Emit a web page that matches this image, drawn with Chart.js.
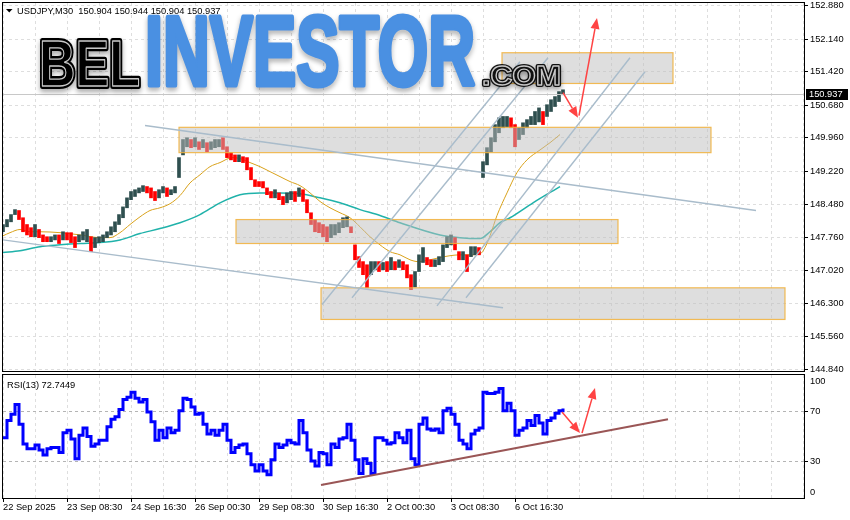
<!DOCTYPE html>
<html>
<head>
<meta charset="utf-8">
<title>USDJPY M30</title>
<script src="https://cdn.jsdelivr.net/npm/chart.js@4.4.1/dist/chart.umd.min.js"></script>
<style>
    body { margin: 0; background: #fff; }
    #wrap { position: relative; width: 850px; height: 520px; background: #fff; overflow: hidden; }
    #price-chart { position: absolute; left: 0; top: 0; }
    #rsi-chart { position: absolute; left: 0; top: 372px; }
</style>
</head>
<body>
<div id="wrap">
    <canvas id="price-chart" width="850" height="380"></canvas>
    <canvas id="rsi-chart" width="850" height="148"></canvas>
</div>
<script>
"use strict";

// bar positions (M30 bar number from the left edge), one sample every 4 bars
var STEP = 4;
var highs = [148.04, 148.15, 148.26, 148.37, 148.35, 148.19, 148.04, 147.97, 148.04, 147.93,
    147.81, 147.77, 147.77, 147.81, 147.81, 147.88, 147.86, 147.86, 147.77, 147.81,
    147.88, 147.93, 147.77, 147.75, 147.77, 147.81, 147.88, 147.99, 148.10, 148.26,
    148.43, 148.63, 148.77, 148.81, 148.85, 148.90, 148.88, 148.85, 148.77, 148.81,
    148.88, 148.85, 148.81, 148.88, 149.52, 149.92, 149.96, 149.92, 149.96, 149.87,
    149.92, 149.85, 149.87, 149.92, 149.92, 149.96, 149.76, 149.63, 149.58, 149.58,
    149.54, 149.52, 149.30, 149.03, 148.99, 148.99, 148.85, 148.77, 148.81, 148.74,
    148.66, 148.74, 148.77, 148.77, 148.85, 148.81, 148.59, 148.30, 148.15, 148.08,
    148.04, 147.99, 148.04, 148.04, 148.08, 148.19, 148.21, 147.99, 147.59, 147.33,
    147.22, 147.15, 147.22, 147.22, 147.22, 147.20, 147.22, 147.31, 147.22, 147.26,
    147.22, 147.15, 146.93, 147.00, 147.37, 147.53, 147.31, 147.26, 147.26, 147.33,
    147.59, 147.77, 147.81, 147.75, 147.44, 147.44, 147.37, 147.55, 147.55, 147.53,
    149.43, 149.74, 149.96, 150.25, 150.40, 150.43, 150.43, 150.40, 150.25, 150.18,
    150.29, 150.36, 150.43, 150.54, 150.62, 150.54, 150.69, 150.80, 150.87, 150.98,
    151.02];
var lows = [147.88, 147.99, 148.10, 148.26, 148.15, 147.88, 147.81, 147.77, 147.77, 147.75,
    147.66, 147.66, 147.66, 147.70, 147.62, 147.70, 147.70, 147.64, 147.53, 147.66,
    147.70, 147.66, 147.44, 147.53, 147.64, 147.66, 147.75, 147.81, 147.88, 148.04,
    148.19, 148.41, 148.59, 148.66, 148.74, 148.77, 148.74, 148.63, 148.57, 148.63,
    148.74, 148.66, 148.70, 148.74, 149.08, 149.58, 149.76, 149.74, 149.76, 149.70,
    149.74, 149.65, 149.70, 149.74, 149.76, 149.70, 149.52, 149.47, 149.43, 149.43,
    149.41, 149.25, 149.03, 148.88, 148.88, 148.85, 148.70, 148.63, 148.63, 148.59,
    148.48, 148.52, 148.59, 148.55, 148.66, 148.55, 148.30, 148.04, 147.88, 147.86,
    147.77, 147.66, 147.75, 147.81, 147.86, 147.97, 147.99, 147.86, 147.26, 147.09,
    146.93, 146.64, 146.93, 147.04, 147.00, 147.04, 147.00, 147.04, 147.04, 147.09,
    147.04, 146.86, 146.60, 146.66, 147.00, 147.20, 147.15, 147.11, 147.11, 147.15,
    147.22, 147.53, 147.59, 147.48, 147.26, 147.26, 147.00, 147.33, 147.37, 147.37,
    149.08, 149.36, 149.65, 149.87, 150.07, 150.18, 150.20, 150.18, 149.76, 149.92,
    150.03, 150.18, 150.25, 150.25, 150.31, 150.25, 150.43, 150.54, 150.65, 150.76,
    150.91];
var rsiValues = [49, 63, 68, 76, 60, 44, 40, 40, 43, 39,
    35, 40, 41, 41, 37, 53, 55, 48, 32, 51,
    57, 50, 42, 44, 47, 47, 58, 64, 66, 72,
    80, 82, 86, 81, 78, 80, 70, 62, 47, 55,
    49, 57, 53, 55, 71, 81, 80, 74, 68, 69,
    60, 52, 55, 51, 55, 60, 47, 37, 41, 43,
    44, 36, 27, 22, 27, 22, 19, 31, 44, 41,
    43, 47, 45, 44, 63, 53, 39, 30, 26, 37,
    36, 27, 44, 41, 48, 49, 60, 47, 31, 20,
    32, 28, 20, 49, 49, 47, 44, 45, 53, 49,
    45, 55, 32, 27, 60, 65, 56, 55, 56, 53,
    71, 73, 68, 60, 47, 44, 40, 52, 55, 57,
    86, 85, 85, 86, 89, 71, 77, 71, 51, 55,
    57, 63, 59, 67, 61, 52, 63, 65, 69, 71,
    72.74];

// moving averages, read at their own bar numbers
var fastX = [0, 7, 17, 27, 37, 57, 77, 97, 107, 117, 127, 137, 147, 157, 167, 177, 187, 197, 207, 217,
    229, 237, 247, 257, 267, 277, 287, 297, 307, 317, 327, 337, 347, 357, 367, 377, 387, 397, 407, 415,
    427, 437, 447, 457, 467, 477, 482, 487, 494, 504, 514, 524, 537, 547, 557];
var fastMA = [147.79, 147.86, 147.93, 147.88, 147.88, 147.86, 147.81, 147.75, 147.75, 147.86,
    148.04, 148.21, 148.35, 148.41, 148.50, 148.68, 148.96, 149.14, 149.32, 149.41,
    149.52, 149.50, 149.41, 149.32, 149.21, 149.10, 148.99, 148.90, 148.74, 148.55,
    148.41, 148.30, 148.19, 147.99, 147.77, 147.59, 147.44, 147.37, 147.26, 147.22,
    147.26, 147.31, 147.35, 147.37, 147.37, 147.39, 147.53, 147.79, 148.24, 148.74,
    149.19, 149.47, 149.69, 149.85, 150.03];
var slowX = [0, 17, 37, 57, 77, 97, 117, 137, 157, 177, 197, 217, 237, 257, 277, 297, 317, 337, 357, 377,
    397, 437, 457, 477, 487, 497, 507, 530, 557];
var slowMA = [147.42, 147.46, 147.55, 147.59, 147.62, 147.64, 147.70, 147.84, 147.95, 148.08,
    148.26, 148.52, 148.70, 148.74, 148.74, 148.72, 148.63, 148.52, 148.37, 148.24,
    148.08, 147.81, 147.75, 147.73, 147.88, 148.08, 148.19, 148.52, 148.88];

// axes
var priceTicks = [144.84, 145.56, 146.30, 147.02, 147.76, 148.48, 149.22, 149.96, 150.68, 151.42, 152.14, 152.88];
var priceLabels = ['144.840', '145.560', '146.300', '147.020', '147.760', '148.480', '149.220', '149.960', '150.680', '151.420', '152.140', '152.880'];
var rsiTicks = [4.6, 30, 70, 94.6];
var rsiLabels = ['0', '30', '70', '100'];
var timeLabels = ['22 Sep 2025', '23 Sep 08:30', '24 Sep 16:30', '26 Sep 00:30', '29 Sep 08:30',
    '30 Sep 16:30', '2 Oct 00:30', '3 Oct 08:30', '6 Oct 16:30'];
var headerText = 'USDJPY,M30  150.904 150.944 150.904 150.937';
var rsiHeader = 'RSI(13) 72.7449';
var lastPrice = 150.937;
var lastLabel = '150.937';

// drawn objects: zones, trend lines, arrows (bar number / price)
var zoneStart = [499, 176, 233, 318];
var zoneEnd = [670, 708, 615, 782];
var zoneTop = [151.84, 150.19, 148.15, 146.64];
var zoneBottom = [151.16, 149.63, 147.62, 145.94];
var lineX0 = [142, 0, 319, 349, 434, 463];
var lineP0 = [150.23, 147.70, 146.27, 146.42, 146.24, 146.42];
var lineX1 = [753, 500, 517, 545, 627, 642];
var lineP1 = [148.35, 146.20, 151.64, 151.73, 151.73, 151.42];
var arrowX0 = [560, 576];
var arrowP0 = [150.96, 150.45];
var arrowX1 = [575, 594];
var arrowP1 = [150.40, 152.61];
var rsiLineX = [318, 665];
var rsiLineV = [10.6, 64.0];
var rsiArrowX0 = [559, 579];
var rsiArrowV0 = [69.9, 52.8];
var rsiArrowX1 = [577, 592];
var rsiArrowV1 = [52.8, 89.4];

var FONT = '"Liberation Sans", Arial, sans-serif';
Chart.defaults.font.family = FONT;
Chart.defaults.font.size = 9.3;
Chart.defaults.color = '#000';

var barX = highs.map(function (h, i) { return i * STEP; });
var gridX = [];
for (var g = 0; g <= 800; g += 32) gridX.push(g);

var barColors = highs.map(function (h, i) {
    if (i === 0) return '#2f4f4f';
    return (h + lows[i]) >= (highs[i - 1] + lows[i - 1]) ? '#2f4f4f' : '#ff0000';
});

function arrow(ctx, x0, y0, x1, y1) {
    var ang = Math.atan2(y1 - y0, x1 - x0), len = 11, half = 4.5;
    var bx = x1 - len * Math.cos(ang), by = y1 - len * Math.sin(ang);
    ctx.beginPath();
    ctx.moveTo(x0, y0);
    ctx.lineTo(bx, by);
    ctx.stroke();
    ctx.beginPath();
    ctx.moveTo(x1, y1);
    ctx.lineTo(bx + half * Math.sin(ang), by - half * Math.cos(ang));
    ctx.lineTo(bx - half * Math.sin(ang), by + half * Math.cos(ang));
    ctx.closePath();
    ctx.fill();
}

function logoWord(ctx, text, left, top, right, bottom, fill, thick, outline) {
    var size = (bottom - top) / 0.716;
    ctx.font = 'bold ' + size + 'px ' + FONT;
    var w = ctx.measureText(text).width;
    ctx.save();
    ctx.translate(left, bottom);
    ctx.scale((right - left) / w, 1);
    ctx.lineJoin = 'round';
    ctx.fillStyle = fill;
    ctx.strokeStyle = fill;
    ctx.lineWidth = thick;
    ctx.shadowColor = 'rgba(0,0,0,0.35)';
    ctx.shadowBlur = 5;
    ctx.shadowOffsetY = 3;
    ctx.strokeText(text, 0, 0);
    ctx.shadowColor = 'rgba(0,0,0,0)';
    ctx.fillText(text, 0, 0);
    if (outline) {
        ctx.strokeStyle = outline;
        ctx.lineWidth = 1.3;
        ctx.strokeText(text, 0, 0);
    }
    ctx.restore();
}

function frame(ctx, a) {
    ctx.strokeStyle = '#000';
    ctx.lineWidth = 1;
    ctx.strokeRect(a.left - 0.5, a.top - 0.5, a.right - a.left + 1, a.bottom - a.top + 1);
}

/* price panel drawings */
var priceOverlay = {
    id: 'priceOverlay',
    afterDatasetsDraw: function (chart) {
        var ctx = chart.ctx, a = chart.chartArea, x = chart.scales.x, y = chart.scales.y, i;
        ctx.save();
        ctx.beginPath();
        ctx.rect(a.left, a.top, a.right - a.left, a.bottom - a.top);
        ctx.clip();

        var by = Math.round(y.getPixelForValue(lastPrice)) + 0.5;
        ctx.strokeStyle = '#c8c8c8';
        ctx.lineWidth = 1;
        ctx.beginPath();
        ctx.moveTo(a.left, by);
        ctx.lineTo(a.right, by);
        ctx.stroke();

        for (i = 0; i < zoneStart.length; i++) {
            var zx0 = x.getPixelForValue(zoneStart[i]), zx1 = x.getPixelForValue(zoneEnd[i]);
            var zy0 = y.getPixelForValue(zoneTop[i]), zy1 = y.getPixelForValue(zoneBottom[i]);
            ctx.fillStyle = 'rgba(190,190,190,0.5)';
            ctx.fillRect(zx0, zy0, zx1 - zx0, zy1 - zy0);
            ctx.strokeStyle = 'rgba(242,176,56,0.85)';
            ctx.lineWidth = 1.2;
            ctx.strokeRect(zx0, zy0, zx1 - zx0, zy1 - zy0);
        }

        ctx.strokeStyle = '#a9bccb';
        ctx.lineWidth = 1.4;
        for (i = 0; i < lineX0.length; i++) {
            ctx.beginPath();
            ctx.moveTo(x.getPixelForValue(lineX0[i]), y.getPixelForValue(lineP0[i]));
            ctx.lineTo(x.getPixelForValue(lineX1[i]), y.getPixelForValue(lineP1[i]));
            ctx.stroke();
        }

        logoWord(ctx, 'BEL', 39, 40, 140, 86, '#000', 6, '#c8c8c8');
        logoWord(ctx, 'INVESTOR', 145, 14, 475, 85, '#4a90e2', 5, null);
        logoWord(ctx, '.COM', 482, 65, 561, 85, '#111', 4, '#c8c8c8');

        ctx.strokeStyle = '#ff4343';
        ctx.fillStyle = '#ff4343';
        ctx.lineWidth = 1.5;
        for (i = 0; i < arrowX0.length; i++) {
            arrow(ctx, x.getPixelForValue(arrowX0[i]), y.getPixelForValue(arrowP0[i]),
                x.getPixelForValue(arrowX1[i]), y.getPixelForValue(arrowP1[i]));
        }
        ctx.restore();

        ctx.save();
        frame(ctx, a);
        ctx.fillStyle = '#000';
        ctx.beginPath();
        ctx.moveTo(6, 9);
        ctx.lineTo(12.5, 9);
        ctx.lineTo(9.25, 12.5);
        ctx.closePath();
        ctx.fill();
        ctx.font = '9.3px ' + FONT;
        ctx.textBaseline = 'alphabetic';
        ctx.fillText(headerText, 17, 14);

        var ty = Math.round(y.getPixelForValue(lastPrice));
        ctx.fillRect(a.right + 2, ty - 5, 42, 11);
        ctx.fillStyle = '#fff';
        ctx.textBaseline = 'middle';
        ctx.fillText(lastLabel, a.right + 5, ty + 0.5);
        ctx.restore();
    }
};

/* rsi panel drawings */
var rsiOverlay = {
    id: 'rsiOverlay',
    afterDatasetsDraw: function (chart) {
        var ctx = chart.ctx, a = chart.chartArea, x = chart.scales.x, y = chart.scales.y, i;
        ctx.save();
        ctx.beginPath();
        ctx.rect(a.left, a.top, a.right - a.left, a.bottom - a.top);
        ctx.clip();
        ctx.strokeStyle = '#9a5656';
        ctx.lineWidth = 2;
        ctx.beginPath();
        ctx.moveTo(x.getPixelForValue(rsiLineX[0]), y.getPixelForValue(rsiLineV[0]));
        ctx.lineTo(x.getPixelForValue(rsiLineX[1]), y.getPixelForValue(rsiLineV[1]));
        ctx.stroke();
        ctx.strokeStyle = '#ff4343';
        ctx.fillStyle = '#ff4343';
        ctx.lineWidth = 1.5;
        for (i = 0; i < rsiArrowX0.length; i++) {
            arrow(ctx, x.getPixelForValue(rsiArrowX0[i]), y.getPixelForValue(rsiArrowV0[i]),
                x.getPixelForValue(rsiArrowX1[i]), y.getPixelForValue(rsiArrowV1[i]));
        }
        ctx.restore();
        ctx.save();
        frame(ctx, a);
        ctx.fillStyle = '#000';
        ctx.font = '9.3px ' + FONT;
        ctx.fillText(rsiHeader, 7, 15.5);
        ctx.restore();
    }
};

function gridTicksX(s) {
    s.ticks = gridX.map(function (v) { return { value: v }; });
}

var priceChart = new Chart(document.getElementById('price-chart'), {
    type: 'bar',
    data: {
        datasets: [{
            type: 'bar',
            data: barX.map(function (v, i) { return { x: v, y: [lows[i], highs[i]] }; }),
            backgroundColor: barColors,
            barThickness: 3,
            borderWidth: 0,
            order: 0
        }, {
            type: 'line',
            data: fastX.map(function (v, i) { return { x: v, y: fastMA[i] }; }),
            borderColor: '#d9a21b',
            borderWidth: 1,
            pointRadius: 0,
            cubicInterpolationMode: 'monotone',
            order: 1
        }, {
            type: 'line',
            data: slowX.map(function (v, i) { return { x: v, y: slowMA[i] }; }),
            borderColor: '#20b2aa',
            borderWidth: 1.5,
            pointRadius: 0,
            cubicInterpolationMode: 'monotone',
            order: 2
        }]
    },
    options: {
        responsive: false,
        animation: false,
        events: [],
        layout: { padding: { left: 3, top: 3, right: 0, bottom: 9 } },
        plugins: { legend: { display: false }, tooltip: { enabled: false } },
        scales: {
            x: {
                type: 'linear', min: 0, max: 801, offset: false,
                afterBuildTicks: gridTicksX,
                afterFit: function (s) { s.height = 0; s.paddingLeft = 0; s.paddingRight = 0; },
                ticks: { display: false },
                grid: { color: '#dedede', drawTicks: false, offset: false },
                border: { display: false, dash: [3, 3] }
            },
            y: {
                position: 'right', min: 144.80, max: 152.94,
                afterBuildTicks: function (s) { s.ticks = priceTicks.map(function (v) { return { value: v }; }); },
                afterFit: function (s) { s.width = 46; s.paddingTop = 0; s.paddingBottom = 0; },
                ticks: { autoSkip: false, padding: 2, callback: function (v, i) { return priceLabels[i]; } },
                grid: { color: '#dedede', tickColor: '#000', tickLength: 4 },
                border: { display: false, dash: [3, 3] }
            }
        }
    },
    plugins: [priceOverlay]
});

var rsiChart = new Chart(document.getElementById('rsi-chart'), {
    type: 'line',
    data: {
        datasets: [{
            data: barX.map(function (v, i) { return { x: v, y: rsiValues[i] }; }),
            borderColor: '#0000ff',
            borderWidth: 3,
            pointRadius: 0,
            stepped: true
        }]
    },
    options: {
        responsive: false,
        animation: false,
        events: [],
        layout: { padding: { left: 3, top: 3, right: 0, bottom: 0 } },
        plugins: { legend: { display: false }, tooltip: { enabled: false } },
        scales: {
            x: {
                type: 'linear', min: 0, max: 801, offset: false,
                afterBuildTicks: gridTicksX,
                afterFit: function (s) { s.height = 22; s.paddingLeft = 0; s.paddingRight = 0; },
                ticks: {
                    autoSkip: false, maxRotation: 0, minRotation: 0, align: 'start', padding: 0,
                    callback: function (v) { return (v % 64 === 0 && timeLabels[v / 64]) ? timeLabels[v / 64] : ''; }
                },
                grid: {
                    color: '#dedede', tickLength: 4, offset: false,
                    tickColor: function (c) { return (c.tick && c.tick.value % 64 === 0 && c.tick.value <= 512) ? '#000' : 'rgba(0,0,0,0)'; }
                },
                border: { display: false, dash: [3, 3] }
            },
            y: {
                position: 'right', min: 0, max: 100,
                afterBuildTicks: function (s) { s.ticks = rsiTicks.map(function (v) { return { value: v }; }); },
                afterFit: function (s) { s.width = 46; s.paddingTop = 0; s.paddingBottom = 0; },
                ticks: { autoSkip: false, padding: 2, callback: function (v, i) { return rsiLabels[i]; } },
                grid: {
                    tickLength: 4,
                    color: function (c) { return (c.tick && (c.tick.value === 70 || c.tick.value === 30)) ? '#b4b4b4' : 'rgba(0,0,0,0)'; },
                    tickColor: function (c) { return (c.tick && (c.tick.value === 70 || c.tick.value === 30)) ? '#000' : 'rgba(0,0,0,0)'; }
                },
                border: { display: false, dash: [3, 3] }
            }
        }
    },
    plugins: [rsiOverlay]
});
</script>
</body>
</html>
